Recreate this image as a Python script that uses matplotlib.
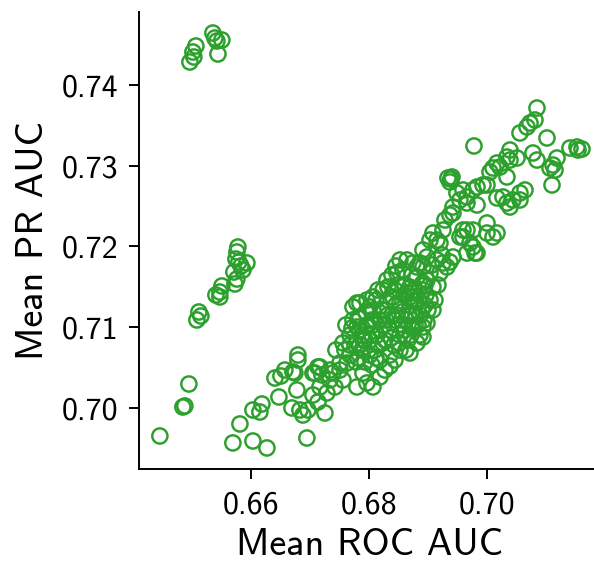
import matplotlib
matplotlib.use("Agg")
import matplotlib.pyplot as plt
import numpy as np

plt.rcParams["font.family"] = ["cmss10", "DejaVu Sans"]
plt.rcParams["axes.formatter.use_mathtext"] = True

# isolated group, top left
roc_top = [0.64973, 0.65024, 0.65074, 0.65040, 0.65362, 0.65430, 0.65514, 0.65447, 0.65396]
pr_top = [0.74285, 0.74409, 0.74483, 0.74347, 0.74644, 0.74545, 0.74557, 0.74384, 0.74582]

# middle-left group
roc_mid = [0.65785, 0.65768, 0.65751, 0.65937, 0.65836, 0.65717, 0.65768, 0.65734, 0.65514,
           0.65480, 0.65413, 0.65480, 0.65125, 0.65159, 0.65091, 0.65870, 0.65802]
pr_mid = [0.71994, 0.71932, 0.71845, 0.71796, 0.71758, 0.71684, 0.71597, 0.71536, 0.71511,
          0.71436, 0.71399, 0.71375, 0.71189, 0.71139, 0.71090, 0.71709, 0.71808]

# low scores, bottom left
roc_low = [0.64956, 0.64854, 0.64888, 0.64465, 0.65819, 0.65700, 0.66039, 0.66276, 0.66039,
           0.66191, 0.66157, 0.66479, 0.66952]
pr_low = [0.70297, 0.70012, 0.70025, 0.69653, 0.69802, 0.69567, 0.69591, 0.69505, 0.69975,
          0.70049, 0.69950, 0.70136, 0.69628]

# main band, lower end
roc_band1 = [0.66411, 0.66513, 0.66800, 0.66749, 0.66783, 0.66699, 0.66834, 0.66885, 0.66969,
             0.67257, 0.67139, 0.67054, 0.67172, 0.67206, 0.67139, 0.67088, 0.66800, 0.67342,
             0.67426, 0.67392, 0.67511, 0.67562, 0.67629, 0.67291, 0.66580, 0.66716, 0.67443,
             0.67562, 0.67511, 0.67172, 0.67054, 0.67342, 0.67680, 0.67731, 0.67798, 0.67849,
             0.67968, 0.68069, 0.68069, 0.67731, 0.67849]
pr_band1 = [0.70371, 0.70396, 0.70656, 0.70433, 0.70223, 0.70000, 0.69975, 0.69913, 0.69975,
            0.69938, 0.70074, 0.70161, 0.70260, 0.70409, 0.70508, 0.70433, 0.70594, 0.70347,
            0.70260, 0.70433, 0.70470, 0.70347, 0.70557, 0.70186, 0.70470, 0.70446, 0.70718,
            0.70805, 0.70557, 0.70508, 0.70433, 0.70470, 0.70780, 0.71090, 0.71300, 0.71127,
            0.71337, 0.71375, 0.71214, 0.71251, 0.71300]

# main band, dense centre
roc_band2 = [0.67680, 0.67765, 0.67849, 0.67883, 0.67934, 0.67985, 0.68018, 0.68052, 0.68103,
             0.68154, 0.68188, 0.68221, 0.68272, 0.68289, 0.68323, 0.68357, 0.68391, 0.68425,
             0.68458, 0.68492, 0.68526, 0.68560, 0.68594, 0.68628, 0.68661, 0.68695, 0.68729,
             0.68763, 0.68797, 0.68831, 0.68864, 0.68898, 0.68932, 0.68966, 0.68188, 0.68052,
             0.67934, 0.67815, 0.68357, 0.68526, 0.68695, 0.68814, 0.68915, 0.68238, 0.68018,
             0.67968, 0.68238, 0.68526, 0.68644, 0.68408, 0.68238, 0.68323, 0.67798, 0.68983,
             0.69084, 0.68915, 0.68357, 0.68069, 0.67968, 0.67798, 0.67900, 0.68188, 0.68628,
             0.68475, 0.68814, 0.69034, 0.68915, 0.68018, 0.68746, 0.68695, 0.69034, 0.68458,
             0.68577, 0.68526, 0.69084, 0.69034, 0.68915, 0.68983, 0.68864, 0.69152, 0.69321,
             0.69203, 0.69084, 0.68915, 0.68695, 0.68644, 0.68746, 0.68915, 0.68814, 0.68983,
             0.69254, 0.69423, 0.69203, 0.69254, 0.69152, 0.69372, 0.67612, 0.68103, 0.68441,
             0.68272, 0.68611, 0.68780, 0.68492, 0.68120, 0.67900, 0.68323, 0.68729, 0.68441,
             0.68188, 0.68052, 0.68154, 0.68949, 0.67680, 0.67849]
pr_band2 = [0.70904, 0.70780, 0.70966, 0.70718, 0.70842, 0.71028, 0.70656, 0.70904, 0.71090,
            0.70780, 0.70966, 0.71214, 0.70842, 0.71090, 0.71337, 0.70966, 0.71152, 0.70780,
            0.71275, 0.71028, 0.70904, 0.71189, 0.71399, 0.71090, 0.70842, 0.71275, 0.71003,
            0.71461, 0.71152, 0.71337, 0.70904, 0.71214, 0.71090, 0.71399, 0.70594, 0.70532,
            0.70570, 0.70619, 0.70656, 0.70718, 0.70681, 0.70805, 0.70879, 0.70805, 0.70842,
            0.71003, 0.71214, 0.71300, 0.71424, 0.71375, 0.71461, 0.71498, 0.71003, 0.71053,
            0.71214, 0.71003, 0.70520, 0.70260, 0.70310, 0.70260, 0.70433, 0.70384, 0.70718,
            0.71672, 0.71746, 0.71672, 0.71548, 0.71251, 0.71424, 0.71498, 0.71337, 0.71758,
            0.71709, 0.71833, 0.72167, 0.72080, 0.71957, 0.71870, 0.71796, 0.71833, 0.71746,
            0.71672, 0.71498, 0.71461, 0.71375, 0.71833, 0.71796, 0.71746, 0.71622, 0.71585,
            0.71796, 0.71870, 0.72043, 0.72204, 0.72080, 0.71808, 0.71028, 0.70718, 0.70594,
            0.70470, 0.70966, 0.71028, 0.71523, 0.71337, 0.70842, 0.71152, 0.71152, 0.71090,
            0.71090, 0.71090, 0.71461, 0.71275, 0.70656, 0.70780]

# main band, extra runs inside the dense centre
roc_band2b = [0.67595, 0.67714, 0.67815, 0.67951, 0.68137, 0.68255, 0.68374, 0.68475, 0.68577,
              0.68678, 0.68611, 0.68780, 0.68864, 0.69000, 0.68441, 0.68306, 0.68069, 0.67883,
              0.67781, 0.68120, 0.68509, 0.68712, 0.68831, 0.68949, 0.69118, 0.69169, 0.69237,
              0.69067, 0.68729, 0.68391]
pr_band2b = [0.70718, 0.70991, 0.71114, 0.71189, 0.70904, 0.71028, 0.70867, 0.71152, 0.71028,
             0.71152, 0.71523, 0.71337, 0.71152, 0.71214, 0.71461, 0.71585, 0.71028, 0.70904,
             0.70570, 0.70619, 0.70805, 0.70904, 0.71028, 0.71523, 0.71337, 0.71523, 0.71895,
             0.71771, 0.71647, 0.71647]

# main band, upper middle
roc_band3 = [0.69372, 0.69490, 0.69660, 0.69829, 0.69998, 0.70167, 0.69423, 0.69541, 0.69660,
             0.69592, 0.69761, 0.69829, 0.69998, 0.69998, 0.70100, 0.69761, 0.69423, 0.69660,
             0.69829, 0.69541, 0.69710, 0.69660, 0.69592, 0.69372, 0.69406, 0.69338, 0.69592,
             0.69761, 0.69930, 0.69287, 0.69389]
pr_band3 = [0.72799, 0.72663, 0.72613, 0.72737, 0.72762, 0.72601, 0.72415, 0.72576, 0.72204,
            0.72118, 0.71994, 0.71919, 0.72291, 0.72167, 0.72118, 0.72204, 0.72489, 0.72539,
            0.72514, 0.72118, 0.72043, 0.71919, 0.72204, 0.72390, 0.72861, 0.72848, 0.72700,
            0.72700, 0.72762, 0.72328, 0.72836]

# main band, top end
roc_band4 = [0.70844, 0.70810, 0.70726, 0.70675, 0.70556, 0.71013, 0.69778, 0.71521, 0.71538,
             0.71402, 0.71605, 0.70387, 0.70387, 0.70506, 0.70336, 0.70776, 0.70844, 0.71182,
             0.71115, 0.71149, 0.71064, 0.71098, 0.70167, 0.70218, 0.70100, 0.70049, 0.70336,
             0.70269, 0.70336, 0.70387, 0.70556, 0.70641, 0.70556, 0.70438, 0.70167, 0.69795]
pr_band4 = [0.73715, 0.73567, 0.73529, 0.73480, 0.73406, 0.73344, 0.73245, 0.73232, 0.73195,
            0.73220, 0.73207, 0.73195, 0.73071, 0.73096, 0.73108, 0.73158, 0.73071, 0.73096,
            0.73009, 0.72947, 0.72972, 0.72762, 0.73034, 0.72984, 0.72972, 0.72923, 0.72861,
            0.72613, 0.72539, 0.72489, 0.72663, 0.72700, 0.72576, 0.72576, 0.72167, 0.71919]

roc_auc = np.array(roc_top + roc_mid + roc_low + roc_band1 + roc_band2 + roc_band2b
                   + roc_band3 + roc_band4)
pr_auc = np.array(pr_top + pr_mid + pr_low + pr_band1 + pr_band2 + pr_band2b
                  + pr_band3 + pr_band4)

fig = plt.figure(figsize=(5.94, 5.62), dpi=100)
# the axes runs a little past the right edge of the figure, like the original crop
ax = fig.add_axes([0.2348, 0.1646, 0.7753, 0.814])
ax.scatter(roc_auc, pr_auc, s=120, facecolors="none", edgecolors="#2ca02c", linewidths=1.75)

ax.set_xlim(0.6412, 0.7191)
ax.set_ylim(0.69238, 0.74904)
ax.set_xticks([0.66, 0.68, 0.70])
ax.set_yticks([0.70, 0.71, 0.72, 0.73, 0.74])
ax.set_xticklabels(["0.66", "0.68", "0.70"])
ax.set_yticklabels(["0.70", "0.71", "0.72", "0.73", "0.74"])

for side in ["top", "right"]:
    ax.spines[side].set_visible(False)
for side in ["left", "bottom"]:
    ax.spines[side].set_linewidth(1.4)
ax.tick_params(axis="both", labelsize=23, length=7, width=1.4, pad=8)

ax.set_xlabel("Mean ROC AUC", fontsize=27.5, labelpad=6)
ax.set_ylabel("Mean PR AUC", fontsize=27.5, labelpad=8)

fig.savefig("out.png", dpi=100)
